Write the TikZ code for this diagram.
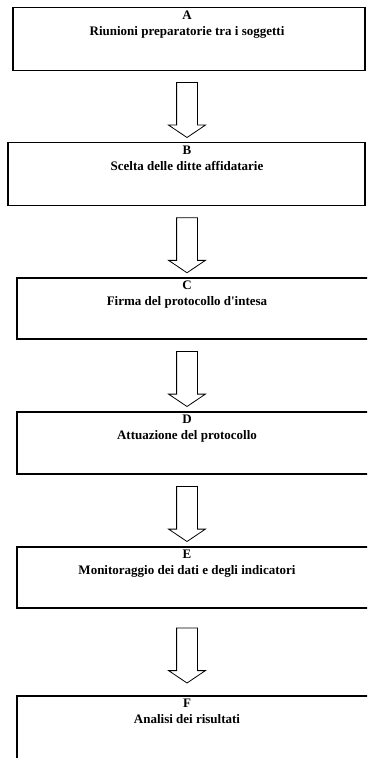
\documentclass[tikz,border=0pt]{standalone}
\usepackage{fontspec}
\setmainfont{Liberation Serif}
\usetikzlibrary{shapes.arrows}

\tikzset{
  stagebox/.style={draw, line width=1.1pt, minimum height=63pt, inner sep=0pt},
  stagetext/.style={anchor=north, align=center, inner sep=0pt, yshift=-3.5pt,
    font=\fontsize{13}{16}\selectfont\bfseries},
  blockarrow/.style={draw, line width=0.8pt, single arrow, rotate=-90,
    minimum height=55pt, inner xsep=0pt, inner ysep=10pt,
    single arrow head extend=8pt, single arrow tip angle=112}
}

\begin{document}
\begin{tikzpicture}[x=1pt, y=1pt]
  \path[clip] (0,0) rectangle (367,-758);
  \coordinate (axis) at (187,0);

  % boxes
  \node[stagebox, minimum width=352pt] (boxA) at (189,-39) {};
  \node[stagebox, minimum width=357pt] (boxB) at (186.5,-174) {};
  \node[stagebox, minimum width=405pt, minimum height=61pt] (boxC) at (219.5,-308.5) {};
  \node[stagebox, minimum width=405pt, minimum height=62pt] (boxD) at (219.5,-443) {};
  \node[stagebox, minimum width=405pt, minimum height=61pt] (boxE) at (219.5,-577.5) {};
  \node[stagebox, minimum width=405pt, minimum height=80pt] (boxF) at (219.5,-736) {};

  % labels
  \node[stagetext] (txtA) at (boxA.north -| axis) {A\\Riunioni preparatorie tra i soggetti};
  \node[stagetext] (txtB) at (boxB.north -| axis) {B\\Scelta delle ditte affidatarie};
  \node[stagetext] (txtC) at (boxC.north -| axis) {C\\Firma del protocollo d\textquotesingle intesa};
  \node[stagetext] (txtD) at (boxD.north -| axis) {D\\Attuazione del protocollo};
  \node[stagetext] (txtE) at (boxE.north -| axis) {E\\Monitoraggio dei dati e degli indicatori};
  \node[stagetext] (txtF) at (boxF.north -| axis) {F\\Analisi dei risultati};

  % arrows
  \path (boxA.south -| axis) -- (boxB.north -| axis) node[blockarrow, midway] (arrAB) {};
  \path (boxB.south -| axis) -- (boxC.north -| axis) node[blockarrow, midway] (arrBC) {};
  \path (boxC.south -| axis) -- (boxD.north -| axis) node[blockarrow, midway] (arrCD) {};
  \path (boxD.south -| axis) -- (boxE.north -| axis) node[blockarrow, midway] (arrDE) {};
  \path (boxE.south -| axis) -- (boxF.north -| axis) node[blockarrow, midway] (arrEF) {};
\end{tikzpicture}
\end{document}
